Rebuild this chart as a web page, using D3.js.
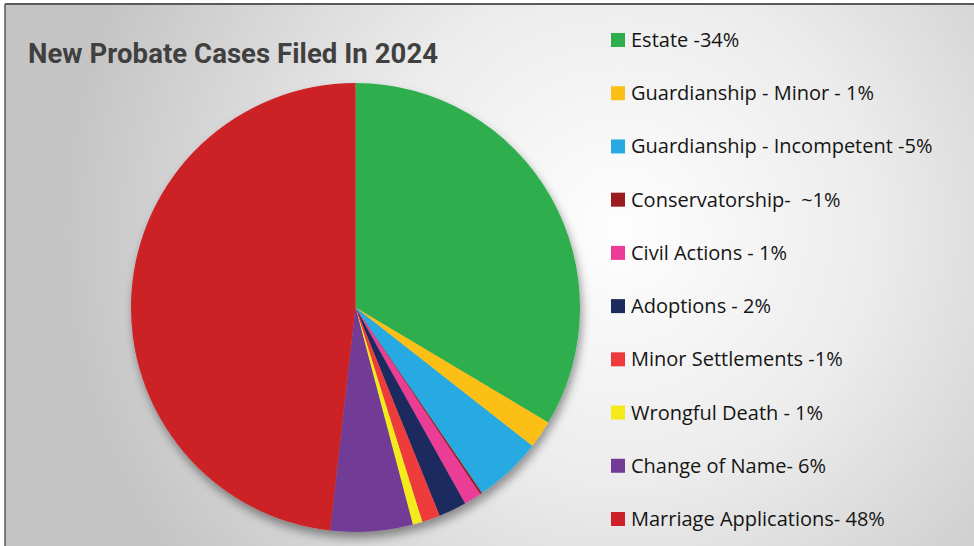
<!DOCTYPE html>
<html lang="en">
<head>
<meta charset="UTF-8">
<title>New Probate Cases Filed In 2024</title>
<script src="https://d3js.org/d3.v7.min.js"></script>
<style>
  html, body { margin: 0; padding: 0; background: #fff; }
  svg { display: block; }
  text { white-space: pre; }
</style>
</head>
<body>
<svg></svg>
<script>
  // case types, clockwise from 12 o'clock
  const categories = [
    'Estate', 'Guardianship - Minor', 'Guardianship - Incompetent', 'Conservatorship',
    'Civil Actions', 'Adoptions', 'Minor Settlements', 'Wrongful Death',
    'Change of Name', 'Marriage Applications'
  ]
  // share of cases (%)
  const shares = [33.5, 2.0, 4.9, 0.15, 1.25, 2.0, 1.3, 0.7, 5.9, 48.1]
  // legend labels as written on the slide
  const legendLabels = [
    'Estate -34%', 'Guardianship - Minor - 1%', 'Guardianship - Incompetent -5%',
    'Conservatorship-  ~1%', 'Civil Actions - 1%', 'Adoptions - 2%',
    'Minor Settlements -1%', 'Wrongful Death - 1%', 'Change of Name- 6%',
    'Marriage Applications- 48%'
  ]
  const colors = ['#2fae4e', '#fcbf17', '#27aae1', '#9a1c20', '#ec3c96',
                  '#1d2a5e', '#ee3a3b', '#f4ea1a', '#713b96', '#cc2128']

  const width = 974, height = 546
  const svg = d3.select('svg').attr('width', width).attr('height', height)
  const defs = svg.append('defs')

  // slide background: soft radial gray
  const grad = defs.append('radialGradient').attr('id', 'bg')
    .attr('gradientUnits', 'userSpaceOnUse')
    .attr('cx', 620).attr('cy', 230).attr('r', 560)
  grad.append('stop').attr('offset', '0%').attr('stop-color', '#fefefe')
  grad.append('stop').attr('offset', '45%').attr('stop-color', '#ececec')
  grad.append('stop').attr('offset', '100%').attr('stop-color', '#c4c4c4')

  const shadow = defs.append('filter').attr('id', 'shadow')
    .attr('x', '-20%').attr('y', '-20%').attr('width', '140%').attr('height', '140%')
  shadow.append('feDropShadow').attr('dx', 2).attr('dy', 6)
    .attr('stdDeviation', 5).attr('flood-color', '#000').attr('flood-opacity', 0.4)

  svg.append('rect').attr('x', 5).attr('y', 4)
    .attr('width', width - 5).attr('height', height - 4)
    .attr('fill', 'url(#bg)')
  // frame edges
  svg.append('line').attr('x1', 5).attr('x2', width).attr('y1', 4).attr('y2', 4)
    .attr('stroke', '#5a5a5a').attr('stroke-width', 2)
  svg.append('line').attr('x1', 5).attr('x2', 5).attr('y1', 4).attr('y2', height)
    .attr('stroke', '#5a5a5a').attr('stroke-width', 1.5)

  svg.append('text')
    .attr('x', 28).attr('y', 63)
    .attr('font-family', 'Roboto, "Liberation Sans", sans-serif')
    .attr('font-weight', 'bold')
    .attr('font-size', 27.5)
    .attr('fill', '#404040')
    .attr('textLength', 410)
    .text('New Probate Cases Filed In 2024')

  // pie
  const cx = 355.5, cy = 307.5, radius = 224.5
  const data = categories.map((c, i) => ({ name: c, value: shares[i] }))
  const pie = d3.pie().value(d => d.value).sort(null)
  const arc = d3.arc().innerRadius(0).outerRadius(radius)
  const color = d3.scaleOrdinal().domain(categories).range(colors)

  const pieG = svg.append('g')
    .attr('transform', `translate(${cx}, ${cy})`)
    .attr('filter', 'url(#shadow)')
  pieG.selectAll('path')
    .data(pie(data))
    .join('path')
    .attr('d', arc)
    .attr('fill', d => color(d.data.name))

  // legend
  const legendY = d3.scalePoint().domain(categories).range([40, 519])
  const legend = svg.append('g').selectAll('g')
    .data(categories)
    .join('g')
    .attr('transform', d => `translate(611, ${legendY(d)})`)
  legend.append('rect')
    .attr('x', 0).attr('y', -7).attr('width', 14).attr('height', 14)
    .attr('fill', d => color(d))
  legend.append('text')
    .attr('x', 20).attr('y', 7)
    .attr('font-family', '"Open Sans", "Liberation Sans", sans-serif')
    .attr('font-size', 20)
    .attr('fill', '#151515')
    .text((d, i) => legendLabels[i])
</script>
</body>
</html>
